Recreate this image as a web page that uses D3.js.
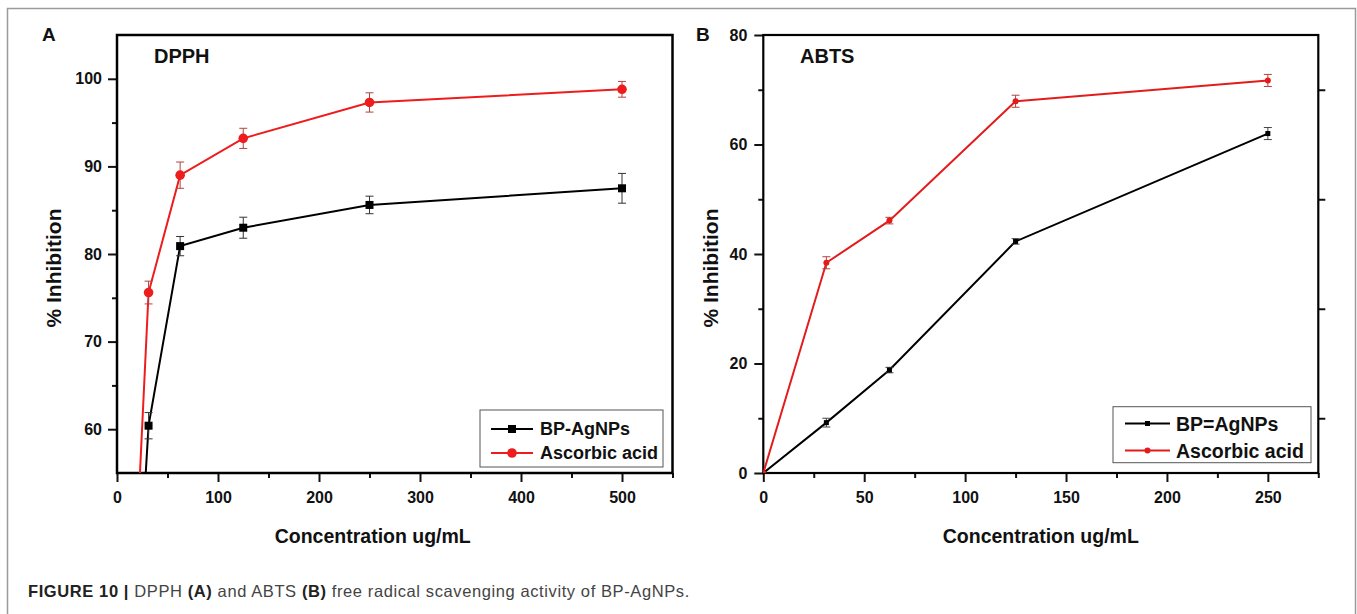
<!DOCTYPE html>
<html>
<head>
<meta charset="utf-8">
<script src="https://cdn.jsdelivr.net/npm/d3@7"></script>
<style>
body { margin: 0; background: #fff; }
svg { display: block; font-family: "Liberation Sans", Arial, sans-serif; }
.axis text { font-size: 16px; font-weight: bold; fill: #111; font-family: "Liberation Sans", Arial, sans-serif; }
.axis line { stroke: #111; stroke-width: 2; }
.axis .domain { display: none; }
.ax { font-weight: bold; fill: #111; }
.leg { font-weight: bold; fill: #111; }
</style>
</head>
<body>
<div id="chart"></div>
<script>
// panel A - DPPH
var concA = [0, 31.25, 62.5, 125, 250, 500];
var bpA = [0, 60.4, 80.9, 83.0, 85.6, 87.5];
var bpAErr = [0, 1.5, 1.1, 1.2, 1.0, 1.7];
var ascA = [0, 75.6, 89.0, 93.2, 97.3, 98.8];
var ascAErr = [0, 1.3, 1.5, 1.15, 1.1, 0.9];
var xTicksA = [0, 100, 200, 300, 400, 500];
var xMinorA = [50, 150, 250, 350, 450, 550];
var yTicksA = [60, 70, 80, 90, 100];
var yMinorA = [65, 75, 85, 95];

// panel B - ABTS
var concB = [0, 31.25, 62.5, 125, 250];
var bpB = [0, 9.2, 18.8, 42.3, 62.0];
var bpBErr = [0, 0.8, 0.5, 0.5, 1.1];
var ascB = [0, 38.4, 46.1, 67.9, 71.7];
var ascBErr = [0, 1.1, 0.6, 1.1, 1.1];
var xTicksB = [0, 50, 100, 150, 200, 250];
var xMinorB = [25, 75, 125, 175, 225, 275];
var yTicksB = [0, 20, 40, 60, 80];
var yMinorB = [10, 30, 50, 70];

var seriesNamesA = ["BP-AgNPs", "Ascorbic acid"];
var seriesNamesB = ["BP=AgNPs", "Ascorbic acid"];

var W = 1357, H = 614;
var svg = d3.select("#chart").append("svg")
    .attr("width", W)
    .attr("height", H);

svg.append("rect").attr("width", W).attr("height", H).attr("fill", "#fff");

// outer frame of the figure
svg.append("path")
    .attr("d", "M7.5," + H + "V8.5H1355.5V" + H)
    .attr("fill", "none")
    .attr("stroke", "#9a9a9a")
    .attr("stroke-width", 1.5);

function drawPanel(p) {
    var g = svg.append("g");

    p.xScale = d3.scaleLinear().domain(p.xDomain).range([p.left, p.right]);
    p.yScale = d3.scaleLinear().domain(p.yDomain).range([p.bottom, p.top]);

    g.append("clipPath").attr("id", p.id + "clip")
        .append("rect")
        .attr("x", p.left).attr("y", p.top)
        .attr("width", p.right - p.left).attr("height", p.bottom - p.top);

    /*
    AXES
    */
    g.append("g").attr("class", "axis")
        .attr("transform", `translate(0,${p.bottom})`)
        .call(d3.axisBottom(p.xScale).tickValues(p.xTicks).tickSize(9).tickPadding(10).tickSizeOuter(0));
    g.append("g").attr("class", "axis")
        .attr("transform", `translate(0,${p.bottom})`)
        .call(d3.axisBottom(p.xScale).tickValues(p.xMinor).tickSize(5).tickFormat("").tickSizeOuter(0));
    g.append("g").attr("class", "axis")
        .attr("transform", `translate(${p.left},0)`)
        .call(d3.axisLeft(p.yScale).tickValues(p.yTicks).tickSize(9).tickPadding(p.yPad).tickSizeOuter(0));
    g.append("g").attr("class", "axis")
        .attr("transform", `translate(${p.left},0)`)
        .call(d3.axisLeft(p.yScale).tickValues(p.yMinor).tickSize(5).tickFormat("").tickSizeOuter(0));
    if (p.rightTicks) {
        g.append("g").attr("class", "axis")
            .attr("transform", `translate(${p.right},0)`)
            .call(d3.axisLeft(p.yScale).tickValues(p.rightTicks).tickSize(-7).tickFormat("").tickSizeOuter(0));
    }

    g.append("rect")
        .attr("x", p.left).attr("y", p.top)
        .attr("width", p.right - p.left).attr("height", p.bottom - p.top)
        .attr("fill", "none")
        .attr("stroke", "#000")
        .attr("stroke-width", p.frameWidth);

    /*
    SERIES
    */
    var plot = g.append("g").attr("clip-path", `url(#${p.id}clip)`);

    p.series.forEach(function(s) {
        var pts = p.x.map(function(x, i) { return { x: x, y: s.values[i], e: s.err[i] }; });

        plot.append("path")
            .datum(pts)
            .attr("fill", "none")
            .attr("stroke", s.color)
            .attr("stroke-width", 2)
            .attr("d", d3.line().x(function(d) { return p.xScale(d.x); }).y(function(d) { return p.yScale(d.y); }));

        var eb = plot.selectAll(null).data(pts.filter(function(d) { return d.e > 0; })).enter().append("g")
            .attr("stroke", s.errColor)
            .attr("stroke-width", 1);
        eb.append("line")
            .attr("x1", function(d) { return p.xScale(d.x); })
            .attr("x2", function(d) { return p.xScale(d.x); })
            .attr("y1", function(d) { return p.yScale(d.y - d.e); })
            .attr("y2", function(d) { return p.yScale(d.y + d.e); });
        [-1, 1].forEach(function(k) {
            eb.append("line")
                .attr("x1", function(d) { return p.xScale(d.x) - p.cap; })
                .attr("x2", function(d) { return p.xScale(d.x) + p.cap; })
                .attr("y1", function(d) { return p.yScale(d.y + k * d.e); })
                .attr("y2", function(d) { return p.yScale(d.y + k * d.e); });
        });

        drawMarker(plot, s.shape, s.color, p.markerSize, pts.map(function(d) { return [p.xScale(d.x), p.yScale(d.y)]; }));
    });

    /*
    LEGEND
    */
    var lg = g.append("g");
    lg.append("rect")
        .attr("x", p.legend.x).attr("y", p.legend.y)
        .attr("width", p.legend.w).attr("height", p.legend.h)
        .attr("fill", "#fff")
        .attr("stroke", "#555")
        .attr("stroke-width", 1);
    p.series.forEach(function(s, i) {
        var yy = p.legend.rows[i];
        lg.append("line")
            .attr("x1", p.legend.lx1).attr("x2", p.legend.lx2)
            .attr("y1", yy).attr("y2", yy)
            .attr("stroke", s.color).attr("stroke-width", 2);
        drawMarker(lg, s.shape, s.color, p.markerSize, [[(p.legend.lx1 + p.legend.lx2) / 2, yy]]);
        lg.append("text").attr("class", "leg")
            .attr("x", p.legend.tx).attr("y", yy)
            .attr("dy", "0.36em")
            .style("font-size", p.legend.fs + "px")
            .text(s.name);
    });

    /*
    LABELS
    */
    g.append("text").attr("class", "ax")
        .attr("x", p.panelX).attr("y", 41)
        .style("font-size", "19px")
        .text(p.id);
    g.append("text").attr("class", "ax")
        .attr("x", p.titleX).attr("y", 63)
        .style("font-size", "20px")
        .text(p.title);
    g.append("text").attr("class", "ax")
        .attr("x", (p.left + p.right) / 2 + p.xLabelShift).attr("y", 543)
        .attr("text-anchor", "middle")
        .style("font-size", "19.5px")
        .text("Concentration ug/mL");
    g.append("text").attr("class", "ax")
        .attr("transform", "rotate(-90)")
        .attr("x", -268).attr("y", p.yLabelX)
        .attr("text-anchor", "middle")
        .style("font-size", "21px")
        .text("% Inhibition");
}

function drawMarker(sel, shape, color, size, coords) {
    if (shape == "square") {
        sel.selectAll(null).data(coords).enter().append("rect")
            .attr("x", function(d) { return d[0] - size / 2; })
            .attr("y", function(d) { return d[1] - size / 2; })
            .attr("width", size).attr("height", size)
            .attr("fill", color);
    } else {
        sel.selectAll(null).data(coords).enter().append("circle")
            .attr("cx", function(d) { return d[0]; })
            .attr("cy", function(d) { return d[1]; })
            .attr("r", size * 0.6)
            .attr("fill", color);
    }
}

var left = {
    id: "A", title: "DPPH",
    left: 117, right: 672.5, top: 35, bottom: 473,
    xDomain: [0, 550], yDomain: [55, 105],
    xTicks: xTicksA, xMinor: xMinorA, yTicks: yTicksA, yMinor: yMinorA,
    yPad: 6, frameWidth: 2.5, cap: 4, markerSize: 8,
    x: concA,
    series: [
        { name: seriesNamesA[0], values: bpA, err: bpAErr, color: "#000", errColor: "#333", shape: "square" },
        { name: seriesNamesA[1], values: ascA, err: ascAErr, color: "#ee1c1c", errColor: "#b3433d", shape: "circle" }
    ],
    legend: { x: 480, y: 410, w: 183, h: 57, rows: [429, 453], lx1: 491, lx2: 533, tx: 540, fs: 18 },
    panelX: 42, titleX: 154, xLabelShift: -22, yLabelX: 61
};

var right = {
    id: "B", title: "ABTS",
    left: 763.3, right: 1318.3, top: 35, bottom: 473,
    xDomain: [0, 275], yDomain: [0, 80],
    xTicks: xTicksB, xMinor: xMinorB, yTicks: yTicksB, yMinor: yMinorB,
    rightTicks: yMinorB,
    yPad: 7, frameWidth: 2.2, cap: 4, markerSize: 5,
    x: concB,
    series: [
        { name: seriesNamesB[0], values: bpB, err: bpBErr, color: "#000", errColor: "#444", shape: "square" },
        { name: seriesNamesB[1], values: ascB, err: ascBErr, color: "#e41b1b", errColor: "#b3433d", shape: "circle" }
    ],
    legend: { x: 1113, y: 406.7, w: 198, h: 56, rows: [423.5, 450.5], lx1: 1125, lx2: 1170, tx: 1176, fs: 19.5 },
    panelX: 696, titleX: 800, xLabelShift: 0, yLabelX: 718
};

drawPanel(left);
drawPanel(right);

// caption
var cap = svg.append("text")
    .attr("x", 28).attr("y", 597)
    .style("font-size", "16.5px")
    .style("letter-spacing", "0.6px")
    .style("fill", "#444");
cap.append("tspan").style("font-weight", "bold").style("fill", "#222").text("FIGURE 10 | ");
cap.append("tspan").text("DPPH ");
cap.append("tspan").style("font-weight", "bold").style("fill", "#222").text("(A)");
cap.append("tspan").text(" and ABTS ");
cap.append("tspan").style("font-weight", "bold").style("fill", "#222").text("(B)");
cap.append("tspan").text(" free radical scavenging activity of BP-AgNPs.");
</script>
</body>
</html>
